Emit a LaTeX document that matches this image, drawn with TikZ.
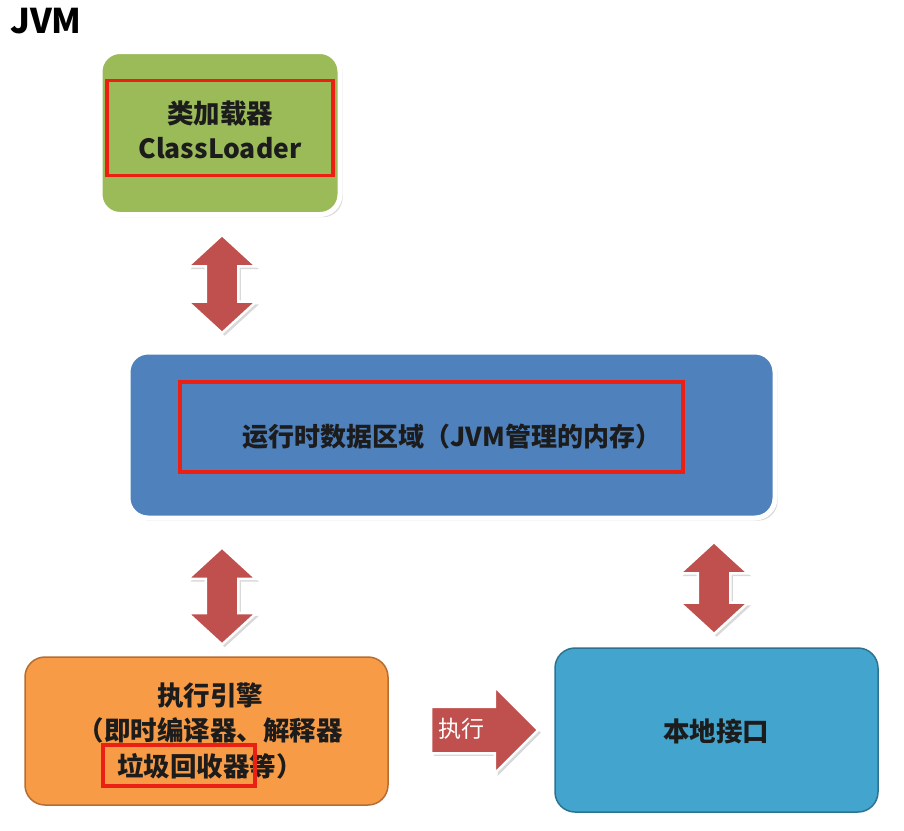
\documentclass[tikz,border=0pt]{standalone}
\usepackage{fontspec}
\setmainfont{Noto Sans CJK SC}
\usetikzlibrary{shapes.arrows}
\usetikzlibrary{shadows}
\definecolor{red1}{RGB}{192, 80, 77}
\definecolor{red2}{RGB}{235, 32, 20}
\definecolor{green1}{RGB}{155, 187, 89}
\definecolor{blue1}{RGB}{79, 129, 189}
\definecolor{orange1}{RGB}{247, 155, 70}
\definecolor{orange2}{RGB}{182, 109, 49}
\definecolor{cyan1}{RGB}{67, 165, 205}
\definecolor{cyan2}{RGB}{44, 115, 145}
\definecolor{ink}{RGB}{28, 28, 28}

\begin{document}
\begin{tikzpicture}[x=1pt, y=-1pt, line width=1.5pt,
  box/.style={rounded corners=20pt, inner sep=0pt},
  whitebox/.style={box, draw=white, line width=5pt, drop shadow={opacity=.3}},
  frame/.style={draw=red2, line width=3.5pt, inner sep=0pt},
  txt/.style={font=\fontsize{26.5}{35.5}\selectfont\bfseries, text=ink, align=center},
  updown/.style={double arrow, fill=red1, draw=white, line width=2.5pt, rotate=90,
    inner xsep=0pt, inner ysep=15pt, double arrow head extend=18pt,
    double arrow tip angle=95, drop shadow={opacity=.3}}]
  \useasboundingbox (0,0) rectangle (904,830);
  \node[font=\fontsize{34}{34}\selectfont\bfseries] (title) at (46,21) {JVM};
  % boxes
  \node[whitebox, fill=green1, minimum width=240pt, minimum height=163pt] (loader) at (220,133) {};
  \node[frame, minimum width=226pt, minimum height=95pt] (loaderfrm) at (220,128) {};
  \node[txt] (loadertxt) at (220,130) {类加载器\\ClassLoader};
  \node[whitebox, fill=blue1, minimum width=647pt, minimum height=166pt] (runtime) at (451.5,435) {};
  \node[frame, minimum width=503pt, minimum height=90pt] (runtimefrm) at (431.5,427) {};
  \node[txt, font=\fontsize{26}{30}\selectfont\bfseries] (runtimetxt) at (452,437) {运行时数据区域（JVM管理的内存）};
  \node[box, fill=orange1, draw=orange2, minimum width=363pt, minimum height=148pt] (engine) at (206.5,731) {};
  \node[txt] (enginetxt) at (210,731) {执行引擎\\（即时编译器、解释器\\垃圾回收器等）};
  \node[frame, minimum width=152pt, minimum height=41pt] (gcfrm) at (179,765.5) {};
  \node[box, fill=cyan1, draw=cyan2, minimum width=323pt, minimum height=164pt] (native) at (716.5,730) {};
  \node[txt] (nativetxt) at (716,731) {本地接口};
  % arrows
  \foreach \name/\x/\y/\len in {a1/222/284/98, a2/222/596/97, a3/714/588/92}
    \node[updown, minimum height=\len pt] (\name) at (\x,\y) {};
  \node[single arrow, fill=red1, draw=white, line width=2.5pt, inner xsep=0pt, inner ysep=22pt,
    minimum height=107pt, single arrow head extend=20pt,
    single arrow tip angle=90, drop shadow={opacity=.3}] (run) at (473,730) {};
  \node[font=\fontsize{23}{23}\selectfont, text=white] (runtxt) at (461,729) {执行};
\end{tikzpicture}
\end{document}
